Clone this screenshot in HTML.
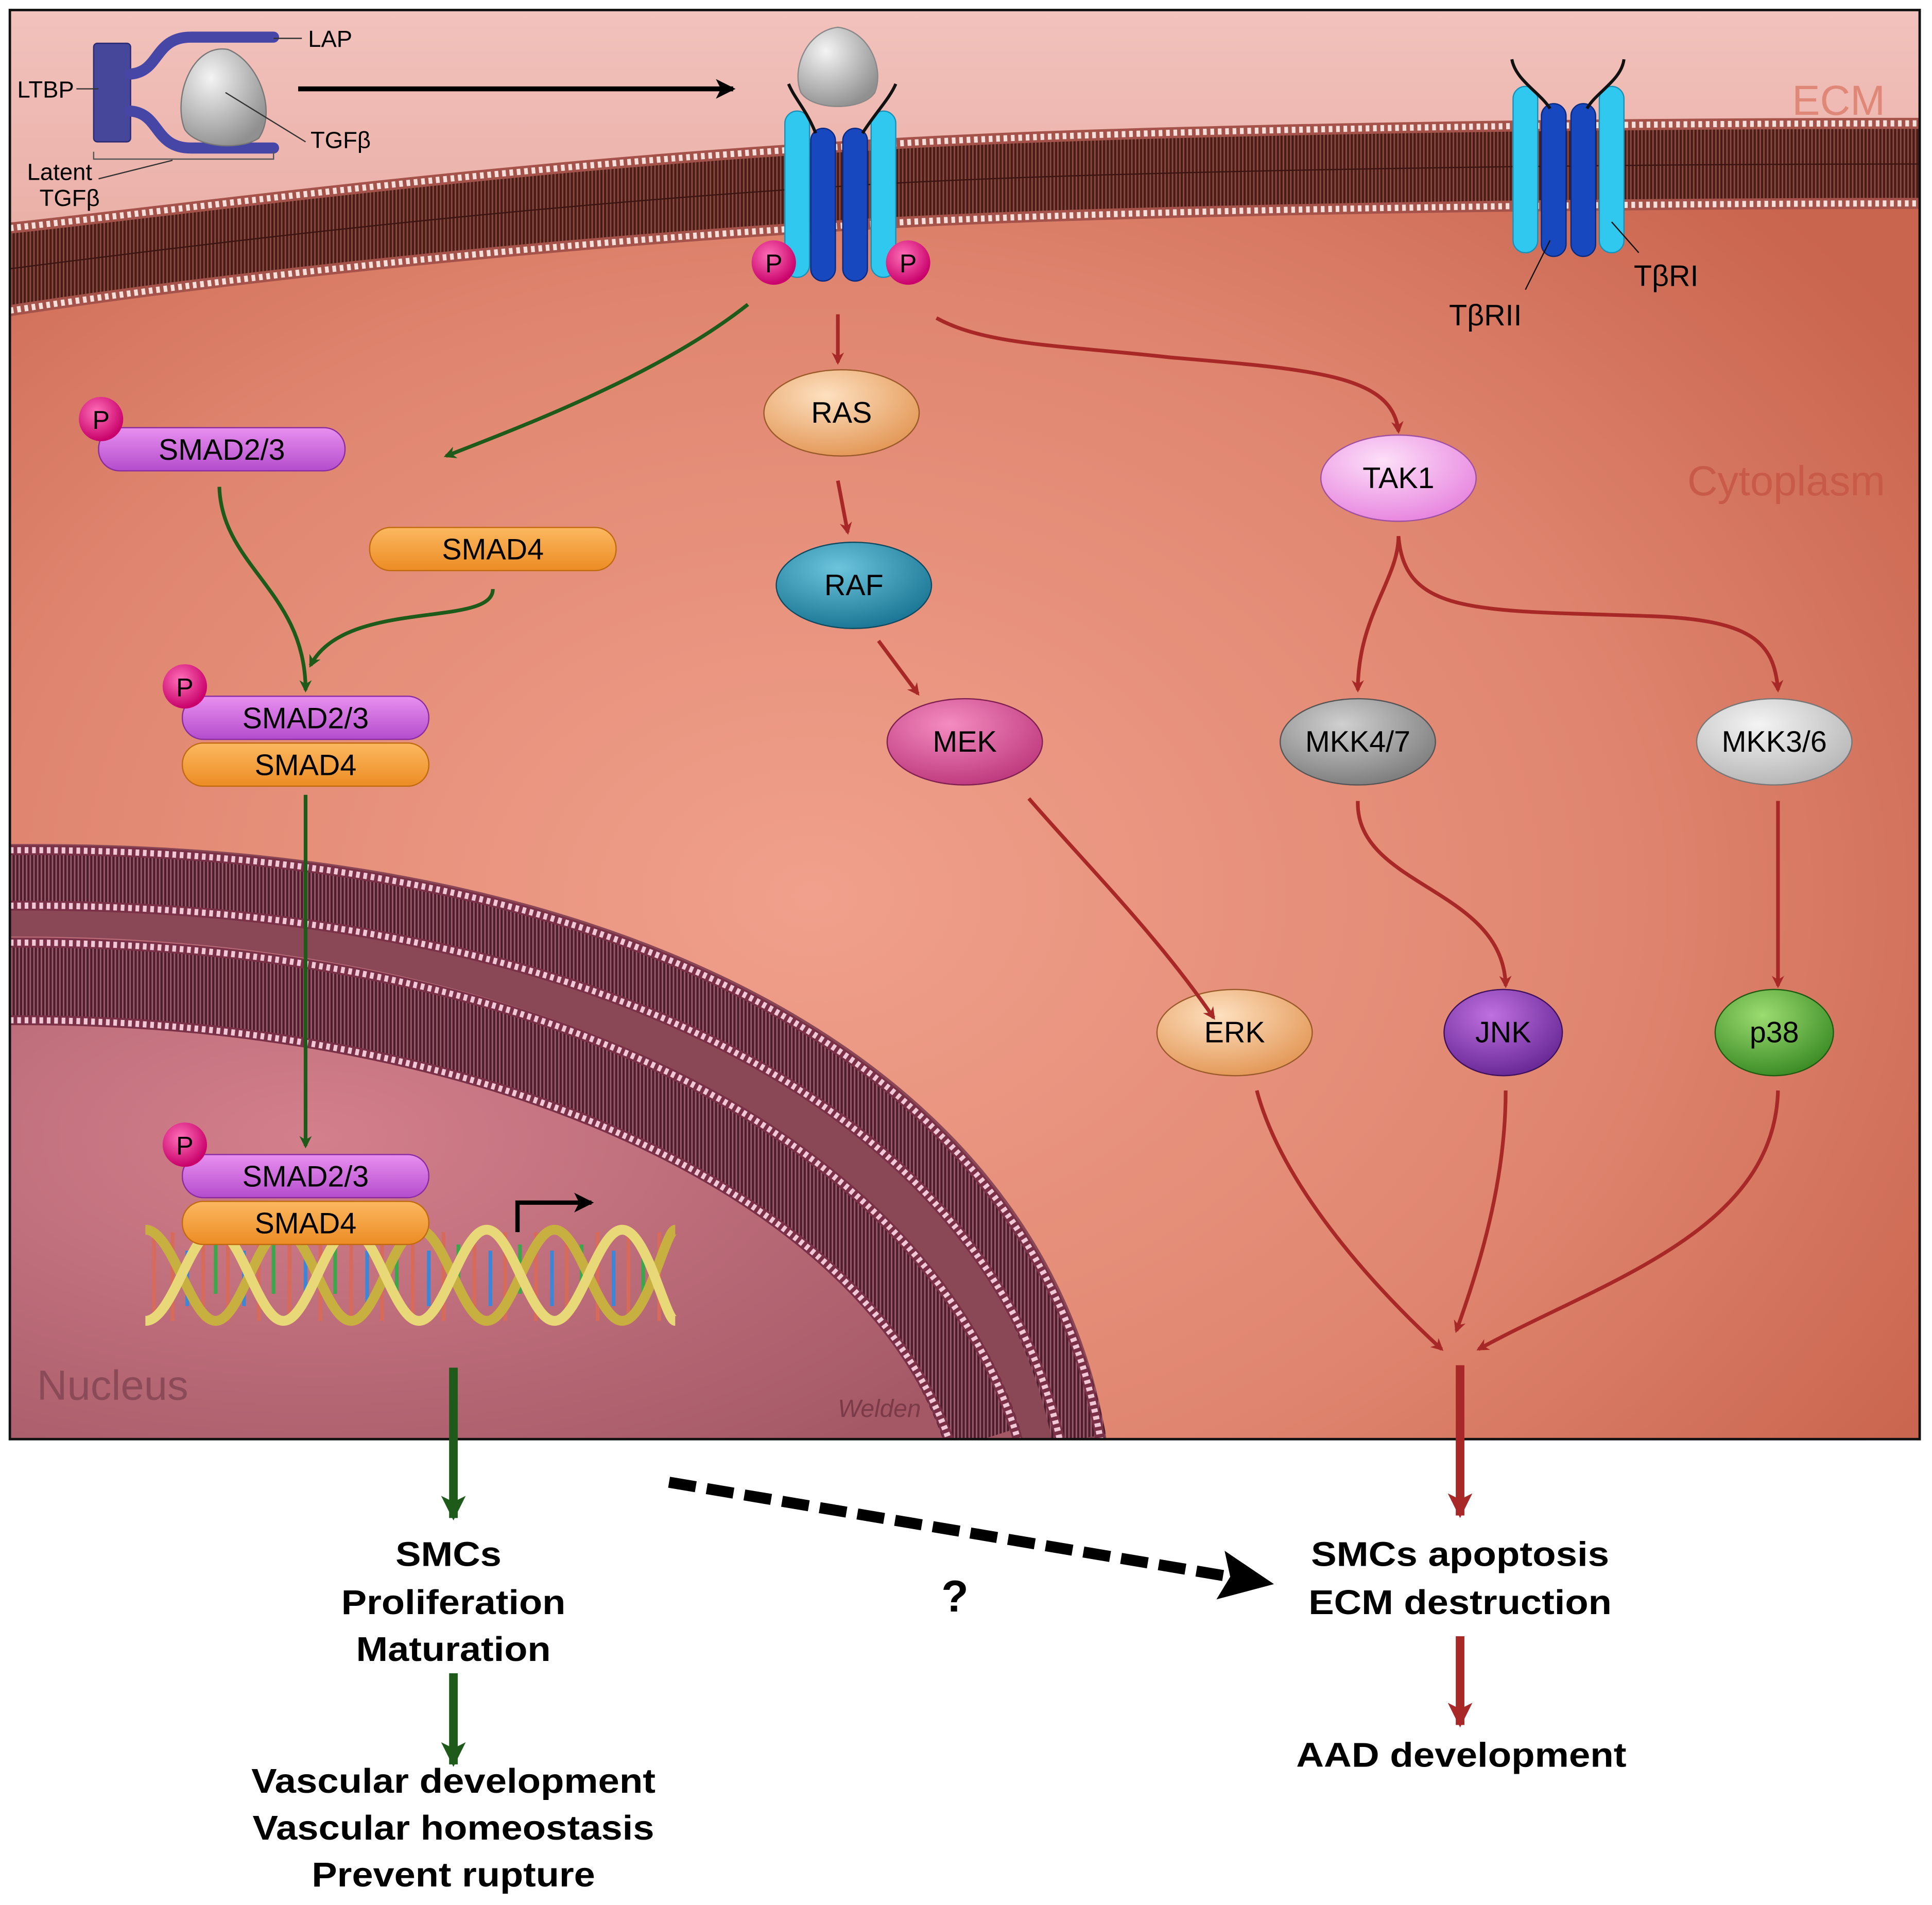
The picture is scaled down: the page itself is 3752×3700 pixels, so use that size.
<!DOCTYPE html>
<html><head><meta charset="utf-8"><style>
html,body{margin:0;padding:0;background:#fff}
svg{display:block}
text{font-family:"Liberation Sans",Arial,sans-serif}
</style></head><body>
<svg width="3752" height="3700" viewBox="0 0 1568 1546" xmlns="http://www.w3.org/2000/svg">
<defs>
<clipPath id="panel"><rect x="8" y="8" width="1550" height="1160"/></clipPath>
<pattern id="stripeP" width="3" height="10" patternUnits="userSpaceOnUse"><rect width="3" height="10" fill="#4a1c18"/><rect width="1.2" height="10" fill="#8a4a40"/></pattern>
<pattern id="stripeN" width="3" height="10" patternUnits="userSpaceOnUse"><rect width="3" height="10" fill="#4e1e2c"/><rect width="1.2" height="10" fill="#9a5a6c"/></pattern>
<radialGradient id="cyto" cx="0.42" cy="0.62" r="0.7">
<stop offset="0" stop-color="#f0a08c"/><stop offset="0.6" stop-color="#e08670"/><stop offset="1" stop-color="#c9644e"/></radialGradient>
<radialGradient id="nuc" cx="0.3" cy="0.4" r="0.8">
<stop offset="0" stop-color="#d4808c"/><stop offset="1" stop-color="#a45866"/></radialGradient>
<linearGradient id="ecm" x1="0" y1="0" x2="0" y2="1"><stop offset="0" stop-color="#f2c2bc"/><stop offset="1" stop-color="#eab0a8"/></linearGradient>
<radialGradient id="gOr" cx="0.4" cy="0.3" r="0.7"><stop offset="0" stop-color="#fde0c0"/><stop offset="1" stop-color="#e49a5a"/></radialGradient>
<radialGradient id="gBl" cx="0.4" cy="0.3" r="0.7"><stop offset="0" stop-color="#6cc4dc"/><stop offset="1" stop-color="#1c7896"/></radialGradient>
<radialGradient id="gMk" cx="0.4" cy="0.3" r="0.7"><stop offset="0" stop-color="#f48cc0"/><stop offset="1" stop-color="#c03c80"/></radialGradient>
<radialGradient id="gTk" cx="0.4" cy="0.3" r="0.7"><stop offset="0" stop-color="#fde0f8"/><stop offset="1" stop-color="#e888e0"/></radialGradient>
<radialGradient id="gGr" cx="0.4" cy="0.3" r="0.7"><stop offset="0" stop-color="#d0d0d0"/><stop offset="1" stop-color="#808080"/></radialGradient>
<radialGradient id="gLg" cx="0.4" cy="0.3" r="0.7"><stop offset="0" stop-color="#f4f4f4"/><stop offset="1" stop-color="#b8b8b8"/></radialGradient>
<radialGradient id="gPu" cx="0.4" cy="0.3" r="0.7"><stop offset="0" stop-color="#c070e0"/><stop offset="1" stop-color="#6a2a98"/></radialGradient>
<radialGradient id="gGn" cx="0.4" cy="0.3" r="0.7"><stop offset="0" stop-color="#9cdc70"/><stop offset="1" stop-color="#3e8e28"/></radialGradient>
<radialGradient id="gGy" cx="0.35" cy="0.3" r="0.75"><stop offset="0" stop-color="#f4f4f4"/><stop offset="1" stop-color="#909090"/></radialGradient>
<linearGradient id="smad23" x1="0" y1="0" x2="0" y2="1"><stop offset="0" stop-color="#e890f0"/><stop offset="1" stop-color="#b44ccc"/></linearGradient>
<linearGradient id="smad4" x1="0" y1="0" x2="0" y2="1"><stop offset="0" stop-color="#fcb860"/><stop offset="1" stop-color="#ec8c24"/></linearGradient>
<radialGradient id="pg" cx="0.4" cy="0.35" r="0.65"><stop offset="0" stop-color="#ff70b8"/><stop offset="1" stop-color="#c8006a"/></radialGradient>
<marker id="ar" markerWidth="10" markerHeight="10" refX="8" refY="5" orient="auto" markerUnits="userSpaceOnUse"><path d="M0,0 L10,5 L0,10 L3,5 Z" fill="#a82828"/></marker>
<marker id="ag" markerWidth="10" markerHeight="10" refX="8" refY="5" orient="auto" markerUnits="userSpaceOnUse"><path d="M0,0 L10,5 L0,10 L3,5 Z" fill="#1e5a1a"/></marker>
<marker id="arB" markerWidth="20" markerHeight="20" refX="18" refY="10" orient="auto" markerUnits="userSpaceOnUse"><path d="M0,0 L20,10 L0,20 L5,10 Z" fill="#a82828"/></marker>
<marker id="agB" markerWidth="20" markerHeight="20" refX="18" refY="10" orient="auto" markerUnits="userSpaceOnUse"><path d="M0,0 L20,10 L0,20 L5,10 Z" fill="#1e5a1a"/></marker>
<marker id="ak" markerWidth="16" markerHeight="16" refX="14" refY="8" orient="auto" markerUnits="userSpaceOnUse"><path d="M0,0 L16,8 L0,16 L4,8 Z" fill="#000"/></marker>
<marker id="akB" markerWidth="44" markerHeight="40" refX="40" refY="20" orient="auto" markerUnits="userSpaceOnUse"><path d="M0,0 L44,20 L0,40 L8,20 Z" fill="#000"/></marker>
</defs>

<g clip-path="url(#panel)">
<rect x="8" y="8" width="1550" height="1160" fill="url(#cyto)"/>
<path d="M8,8 H1558 V100 C1300,100 900,105 700,118 C400,135 150,170 8,185 Z" fill="url(#ecm)"/>
<!-- plasma membrane -->
<path d="M8,185 C150,170 400,135 700,118 C900,105 1300,100 1558,100 L1558,165 C1300,165 900,170 700,182 C400,200 150,230 8,252 Z" fill="url(#stripeP)"/>
<path d="M8,185 C150,170 400,135 700,118 C900,105 1300,100 1558,100" fill="none" stroke="#a4524a" stroke-width="9"/>
<path d="M8,185 C150,170 400,135 700,118 C900,105 1300,100 1558,100" fill="none" stroke="#f6e0dc" stroke-width="5" stroke-dasharray="3 3"/>
<path d="M8,252 C150,230 400,200 700,182 C900,170 1300,165 1558,165" fill="none" stroke="#a4524a" stroke-width="9"/>
<path d="M8,252 C150,230 400,200 700,182 C900,170 1300,165 1558,165" fill="none" stroke="#f6e0dc" stroke-width="5" stroke-dasharray="3 3"/>
<path d="M8,218 C150,200 400,168 700,150 C900,138 1300,133 1558,133" fill="none" stroke="#3a1412" stroke-width="1"/>

<!-- nucleus -->
<path d="M8,685 C520,680 850,870 898,1168 L8,1168 Z" fill="#8a4856"/>
<path d="M8,760 C450,758 760,930 830,1168 L8,1168 Z" fill="url(#nuc)"/>
<g fill="none">
<path d="M8,712 C500,710 820,885 876,1168" stroke="url(#stripeN)" stroke-width="44"/>
<path d="M8,796 C425,794 728,950 798,1168" stroke="url(#stripeN)" stroke-width="62"/>
<path d="M8,690 C515,686 842,872 893,1168" stroke="#7a3046" stroke-width="8"/>
<path d="M8,690 C515,686 842,872 893,1168" stroke="#f0c8d8" stroke-width="5" stroke-dasharray="3 3"/>
<path d="M8,735 C480,732 800,900 860,1168" stroke="#7a3046" stroke-width="8"/>
<path d="M8,735 C480,732 800,900 860,1168" stroke="#f0c8d8" stroke-width="5" stroke-dasharray="3 3"/>
<path d="M8,765 C450,763 756,932 826,1168" stroke="#7a3046" stroke-width="8"/>
<path d="M8,765 C450,763 756,932 826,1168" stroke="#f0c8d8" stroke-width="5" stroke-dasharray="3 3"/>
<path d="M8,828 C400,826 700,970 770,1168" stroke="#7a3046" stroke-width="8"/>
<path d="M8,828 C400,826 700,970 770,1168" stroke="#f0c8d8" stroke-width="5" stroke-dasharray="3 3"/>
</g>
</g>
<rect x="8" y="8" width="1550" height="1160" fill="none" stroke="#111" stroke-width="2"/>

<text x="1530" y="93" font-size="34" fill="#e08878" text-anchor="end">ECM</text>
<text x="1530" y="402" font-size="34" fill="#c85a48" text-anchor="end">Cytoplasm</text>
<text x="30" y="1136" font-size="34" fill="#8a4a58">Nucleus</text>

<!-- latent TGFb complex -->
<rect x="76" y="35" width="30" height="80" rx="3" fill="#46469a" stroke="#2a2a70"/>
<path d="M106,60 C130,58 125,30 155,30 H222" fill="none" stroke="#4646a6" stroke-width="9" stroke-linecap="round"/>
<path d="M106,90 C130,92 125,120 155,120 H222" fill="none" stroke="#4646a6" stroke-width="9" stroke-linecap="round"/>
<path d="M185,40 C210,50 225,90 210,112 C195,122 160,120 150,105 C140,80 155,35 185,40 Z" fill="url(#gGy)" stroke="#777"/>
<line x1="222" y1="31" x2="245" y2="31" stroke="#333"/>
<text x="250" y="38" font-size="19">LAP</text>
<line x1="62" y1="72" x2="80" y2="72" stroke="#333"/>
<text x="14" y="79" font-size="19">LTBP</text>
<line x1="183" y1="75" x2="248" y2="115" stroke="#333"/>
<text x="252" y="120" font-size="19">TGFβ</text>
<path d="M76,123 V129 H222 V123" fill="none" stroke="#555"/>
<line x1="80" y1="145" x2="140" y2="130" stroke="#333"/>
<text x="22" y="146" font-size="19">Latent</text>
<text x="32" y="167" font-size="19">TGFβ</text>
<line x1="242" y1="72" x2="595" y2="72" stroke="#000" stroke-width="4" marker-end="url(#ak)"/>

<!-- active receptor -->
<g>
<rect x="637" y="90" width="20" height="135" rx="10" fill="#30c8ee" stroke="#1890b8"/>
<rect x="707" y="90" width="20" height="135" rx="10" fill="#30c8ee" stroke="#1890b8"/>
<rect x="658" y="104" width="20" height="124" rx="10" fill="#1848c0" stroke="#0a2a80"/>
<rect x="684" y="104" width="20" height="124" rx="10" fill="#1848c0" stroke="#0a2a80"/>
<path d="M640,68 C645,80 655,90 662,108 M727,68 C722,80 710,92 700,108" fill="none" stroke="#111" stroke-width="2.5"/>
<path d="M680,22 C705,25 718,55 710,75 C700,90 660,90 650,75 C642,55 655,25 680,22 Z" fill="url(#gGy)" stroke="#888"/>
<circle cx="628" cy="213" r="18" fill="url(#pg)"/><text x="628" y="221" font-size="21" text-anchor="middle">P</text>
<circle cx="737" cy="213" r="18" fill="url(#pg)"/><text x="737" y="221" font-size="21" text-anchor="middle">P</text>
</g>
<!-- inactive receptor -->
<g>
<rect x="1228" y="70" width="20" height="135" rx="10" fill="#30c8ee" stroke="#1890b8"/>
<rect x="1298" y="70" width="20" height="135" rx="10" fill="#30c8ee" stroke="#1890b8"/>
<rect x="1251" y="84" width="20" height="124" rx="10" fill="#1848c0" stroke="#0a2a80"/>
<rect x="1275" y="84" width="20" height="124" rx="10" fill="#1848c0" stroke="#0a2a80"/>
<path d="M1227,48 C1230,65 1250,75 1258,88 M1318,48 C1316,65 1295,75 1288,88" fill="none" stroke="#111" stroke-width="2.5"/>
<line x1="1258" y1="195" x2="1238" y2="235" stroke="#111"/>
<line x1="1308" y1="180" x2="1330" y2="205" stroke="#111"/>
<text x="1326" y="232" font-size="24">TβRI</text>
<text x="1176" y="264" font-size="24">TβRII</text>
</g>

<!-- SMAD pills -->
<g font-size="24" text-anchor="middle">
<rect x="80" y="347" width="200" height="35" rx="17" fill="url(#smad23)" stroke="#8a2ca0"/>
<circle cx="82" cy="340" r="18" fill="url(#pg)"/><text x="82" y="348" font-size="21">P</text>
<text x="180" y="373">SMAD2/3</text>
<rect x="300" y="428" width="200" height="35" rx="17" fill="url(#smad4)" stroke="#c06a10"/>
<text x="400" y="454">SMAD4</text>
<rect x="148" y="565" width="200" height="35" rx="17" fill="url(#smad23)" stroke="#8a2ca0"/>
<circle cx="150" cy="557" r="18" fill="url(#pg)"/><text x="150" y="565" font-size="21">P</text>
<text x="248" y="591">SMAD2/3</text>
<rect x="148" y="603" width="200" height="35" rx="17" fill="url(#smad4)" stroke="#c06a10"/>
<text x="248" y="629">SMAD4</text>
</g>

<!-- DNA -->
<g>
<g stroke-width="3">
<path d="M125,1000 V1072 M140,1000 V1072 M165,1000 V1072 M185,1000 V1072 M210,1000 V1072 M235,1000 V1072 M260,1000 V1072 M285,1000 V1072 M310,1000 V1072 M335,1000 V1072 M360,1000 V1072 M385,1000 V1072 M410,1000 V1072 M435,1000 V1072 M460,1000 V1072 M485,1000 V1072 M510,1000 V1072 M535,1000 V1072" stroke="#d86a5a"/>
<path d="M152,1015 V1060 M198,1015 V1060 M248,1015 V1060 M298,1015 V1060 M348,1015 V1060 M398,1015 V1060 M448,1015 V1060 M498,1015 V1060" stroke="#3a86d8"/>
<path d="M175,1010 V1050 M222,1010 V1050 M272,1010 V1050 M322,1010 V1050 M372,1010 V1050 M422,1010 V1050 M472,1010 V1050 M522,1010 V1050" stroke="#3aa84a"/>
</g>
<path d="M118,998 C140,998 155,1072 175,1072 C195,1072 210,998 230,998 C250,998 265,1072 285,1072 C305,1072 320,998 340,998 C360,998 375,1072 395,1072 C415,1072 430,998 450,998 C470,998 485,1072 505,1072 C525,1072 540,998 548,998" fill="none" stroke="#c8b040" stroke-width="8"/>
<path d="M118,1072 C140,1072 155,998 175,998 C195,998 210,1072 230,1072 C250,1072 265,998 285,998 C305,998 320,1072 340,1072 C360,1072 375,998 395,998 C415,998 430,1072 450,1072 C470,1072 485,998 505,998 C525,998 540,1072 548,1072" fill="none" stroke="#e8d878" stroke-width="8"/>
</g>
<g font-size="24" text-anchor="middle">
<rect x="148" y="937" width="200" height="35" rx="17" fill="url(#smad23)" stroke="#8a2ca0"/>
<circle cx="150" cy="929" r="18" fill="url(#pg)"/><text x="150" y="937" font-size="21">P</text>
<text x="248" y="963">SMAD2/3</text>
<rect x="148" y="975" width="200" height="35" rx="17" fill="url(#smad4)" stroke="#c06a10"/>
<text x="248" y="1001">SMAD4</text>
</g>
<path d="M420,1000 V976 H480" fill="none" stroke="#000" stroke-width="3.5" marker-end="url(#ak)"/>
<text x="680" y="1150" font-size="20" fill="#7a3a48" font-style="italic" font-family="Liberation Serif">Welden</text>

<!-- kinase nodes -->
<g font-size="24" text-anchor="middle" stroke-width="1">
<ellipse cx="683" cy="335" rx="63" ry="35" fill="url(#gOr)" stroke="#9a5a2a"/><text x="683" y="343">RAS</text>
<ellipse cx="693" cy="475" rx="63" ry="35" fill="url(#gBl)" stroke="#104a60"/><text x="693" y="483">RAF</text>
<ellipse cx="783" cy="602" rx="63" ry="35" fill="url(#gMk)" stroke="#802050"/><text x="783" y="610">MEK</text>
<ellipse cx="1135" cy="388" rx="63" ry="35" fill="url(#gTk)" stroke="#a050a0"/><text x="1135" y="396">TAK1</text>
<ellipse cx="1102" cy="602" rx="63" ry="35" fill="url(#gGr)" stroke="#555"/><text x="1102" y="610">MKK4/7</text>
<ellipse cx="1440" cy="602" rx="63" ry="35" fill="url(#gLg)" stroke="#777"/><text x="1440" y="610">MKK3/6</text>
<ellipse cx="1002" cy="838" rx="63" ry="35" fill="url(#gOr)" stroke="#9a5a2a"/><text x="1002" y="846">ERK</text>
<ellipse cx="1220" cy="838" rx="48" ry="35" fill="url(#gPu)" stroke="#40105a"/><text x="1220" y="846">JNK</text>
<ellipse cx="1440" cy="838" rx="48" ry="35" fill="url(#gGn)" stroke="#205a10"/><text x="1440" y="846">p38</text>
</g>

<!-- red arrows -->
<g fill="none" stroke="#a82828" stroke-width="3" marker-end="url(#ar)">
<path d="M680,255 V294"/>
<path d="M680,390 L688,432"/>
<path d="M713,520 L745,563"/>
<path d="M835,648 C880,700 940,760 985,826"/>
<path d="M760,258 C800,280 860,280 950,290 C1070,300 1130,305 1135,350"/>
<path d="M1135,435 C1135,470 1102,500 1102,560"/>
<path d="M1135,435 C1140,500 1200,495 1340,500 C1420,503 1440,520 1443,560"/>
<path d="M1102,650 C1100,720 1220,720 1222,800"/>
<path d="M1443,650 V800"/>
<path d="M1020,885 C1040,960 1110,1040 1170,1095"/>
<path d="M1222,885 C1222,960 1200,1030 1182,1080"/>
<path d="M1443,885 C1440,1000 1300,1040 1200,1095"/>
</g>
<line x1="1185" y1="1108" x2="1185" y2="1230" stroke="#a82828" stroke-width="7" marker-end="url(#arB)"/>
<line x1="1185" y1="1328" x2="1185" y2="1400" stroke="#a82828" stroke-width="7" marker-end="url(#arB)"/>

<!-- green arrows -->
<g fill="none" stroke="#1e5a1a" stroke-width="3" marker-end="url(#ag)">
<path d="M607,247 C540,300 440,340 362,370"/>
<path d="M178,395 C180,460 248,480 248,560"/>
<path d="M400,478 C400,510 280,485 252,540"/>
<path d="M248,645 V930"/>
</g>
<line x1="368" y1="1110" x2="368" y2="1232" stroke="#1e5a1a" stroke-width="7" marker-end="url(#agB)"/>
<line x1="368" y1="1358" x2="368" y2="1432" stroke="#1e5a1a" stroke-width="7" marker-end="url(#agB)"/>

<!-- dashed -->
<line x1="543" y1="1203" x2="1030" y2="1285" stroke="#000" stroke-width="9" stroke-dasharray="22 9" marker-end="url(#akB)"/>
<text x="775" y="1308" font-size="36" font-weight="bold" text-anchor="middle">?</text>

<!-- outcomes -->
<g font-size="28" font-weight="bold" text-anchor="middle" lengthAdjust="spacingAndGlyphs">
<text x="364" y="1271" textLength="86" lengthAdjust="spacingAndGlyphs">SMCs</text>
<text x="368" y="1310" textLength="182" lengthAdjust="spacingAndGlyphs">Proliferation</text>
<text x="368" y="1348" textLength="158" lengthAdjust="spacingAndGlyphs">Maturation</text>
<text x="368" y="1455" textLength="328" lengthAdjust="spacingAndGlyphs">Vascular development</text>
<text x="368" y="1493" textLength="326" lengthAdjust="spacingAndGlyphs">Vascular homeostasis</text>
<text x="368" y="1531" textLength="230" lengthAdjust="spacingAndGlyphs">Prevent rupture</text>
<text x="1185" y="1271" textLength="242" lengthAdjust="spacingAndGlyphs">SMCs apoptosis</text>
<text x="1185" y="1310" textLength="246" lengthAdjust="spacingAndGlyphs">ECM destruction</text>
<text x="1186" y="1434" textLength="268" lengthAdjust="spacingAndGlyphs">AAD development</text>
</g>
</svg>
</body></html>
